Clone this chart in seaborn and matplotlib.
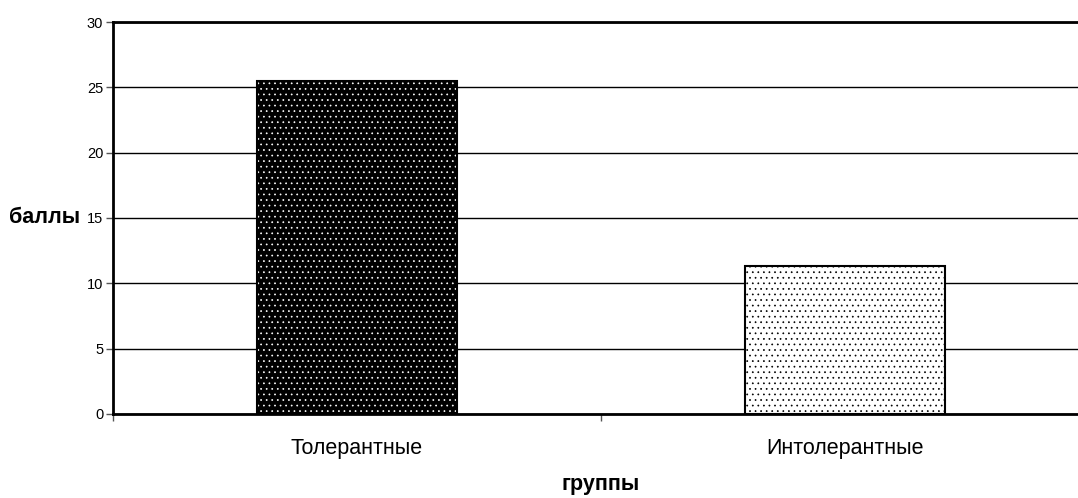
import numpy as np
import pandas as pd
import matplotlib
matplotlib.use("Agg")
import matplotlib.pyplot as plt
import seaborn as sns

### DATA ###
groups = ["Толерантные", "Интолерантные"]
scores = [25.5, 11.3]
yticks = [0, 5, 10, 15, 20, 25, 30]

data = pd.DataFrame({"group": groups, "score": scores})

sns.set_style("white")
plt.rcParams["font.family"] = ["Liberation Sans", "DejaVu Sans"]
plt.rcParams["text.color"] = "black"
plt.rcParams["xtick.color"] = "black"
plt.rcParams["ytick.color"] = "black"
plt.rcParams["axes.labelcolor"] = "black"
plt.rcParams["hatch.linewidth"] = 0.5

fig = plt.figure(figsize=(10.78, 4.98), dpi=100)
axs = fig.add_axes([0.1048, 0.1687, 0.9054, 0.7871])

sns.barplot(x="group", y="score", data=data, ax=axs, width=0.41,
        color="black", saturation=1, edgecolor="black", linewidth=1.5)

#! dotted fills: black bar with white dots, white bar with black dots
faces = ["black", "white"]
dots = ["white", "black"]
for p, fc, dc in zip(axs.patches, faces, dots):
    p.set_facecolor(fc)
    p.set_edgecolor("black")
    p.set_hatch("...")
    p._hatch_color = matplotlib.colors.to_rgba(dc)
    p.set_zorder(3)

#! grid
axs.set_ylim(0, 30)
axs.set_xlim(-0.5, 1.5)
axs.set_yticks(yticks)
axs.yaxis.grid(True, color="black", linewidth=1)
axs.set_axisbelow(True)

for s in ["left", "bottom", "top"]:
    axs.spines[s].set_visible(True)
    axs.spines[s].set_color("black")
    axs.spines[s].set_linewidth(2)
axs.spines["right"].set_visible(False)

axs.tick_params(axis="y", left=True, length=5, width=1, color="#555555",
        labelsize=10.5, pad=2)
axs.tick_params(axis="x", bottom=False, labelsize=15.5, pad=14)
axs.set_xticks([-0.5, 0.5, 1.5], minor=True)
axs.tick_params(axis="x", which="minor", bottom=True, length=5, width=1,
        color="#555555")

axs.set_xlabel("группы", fontsize=15.5, fontweight="bold", va="center")
axs.xaxis.set_label_coords(0.5, -0.179)
axs.set_ylabel("баллы", fontsize=15.5, fontweight="bold", rotation=0,
        ha="right", va="center")
axs.yaxis.set_label_coords(-0.034, 0.5)

#! Save
plt.savefig("out.png", dpi=100)
